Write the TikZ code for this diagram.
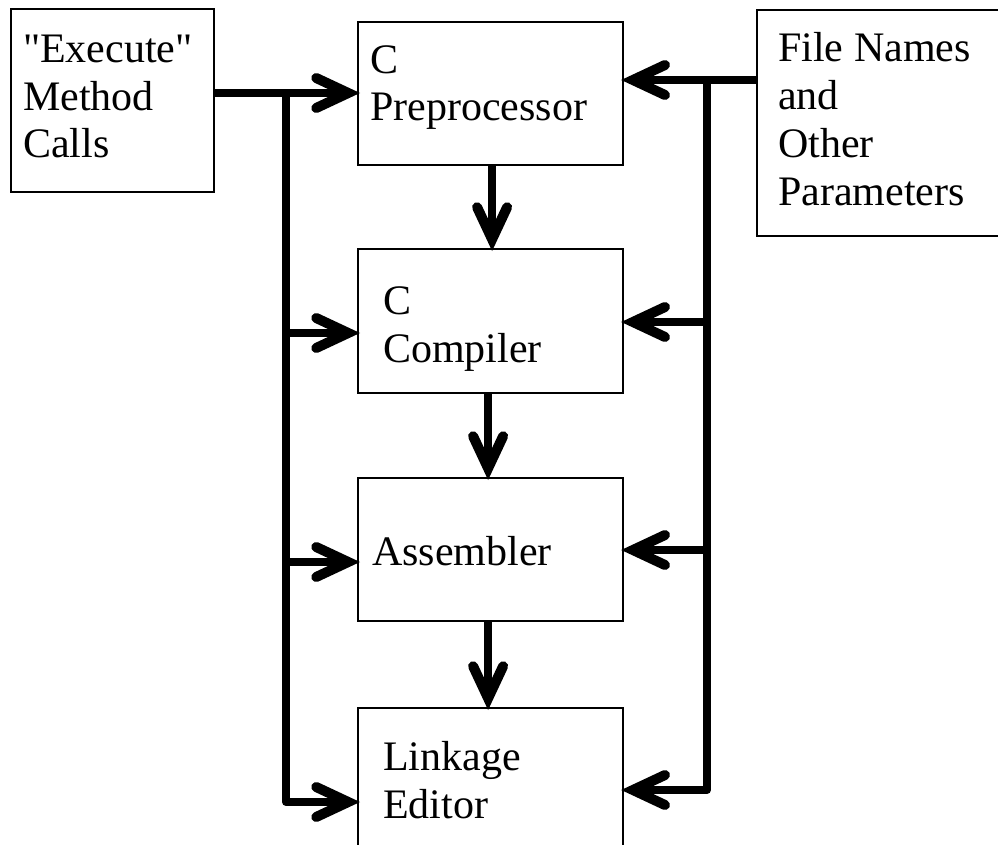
\documentclass[tikz,border=0pt]{standalone}
\usepackage{fontspec}
\setmainfont{Liberation Serif}
% same face without TeX ligatures, so that " stays a straight quote
\newfontfamily\plainserif{Liberation Serif}
\usetikzlibrary{arrows.meta,calc}
\begin{document}
\begin{tikzpicture}[x=1pt,y=-1pt,
  box/.style={draw, line width=2.2pt, inner sep=0pt, anchor=north west},
  % anchor on the baseline of the last line of each label
  lbl/.style={font=\fontsize{42}{47.7}\selectfont, inner sep=0pt, anchor=base west, align=left},
  flow/.style={line width=8pt, line join=round, shorten >=-3pt,
    -{Straight Barb[length=32pt, width=30pt, line width=10pt, line join=miter, line cap=round]}}]
\useasboundingbox (0,0) rectangle (998,845);

% boxes
\node[box, minimum width=203pt, minimum height=183pt] (exec) at (10,8) {};
\node[box, minimum width=265pt, minimum height=143pt] (pre)  at (357,21) {};
\node[box, minimum width=265pt, minimum height=226pt] (file) at (756,9) {};
\node[box, minimum width=265pt, minimum height=144pt] (comp) at (357,248) {};
\node[box, minimum width=265pt, minimum height=143pt] (asm)  at (357,477) {};
\node[box, minimum width=265pt, minimum height=200pt] (link) at (357,707) {};

% labels
\node[lbl] (execT) at (23,158)  {{\plainserif"Execute"}\\Method\\Calls};
\node[lbl] (preT)  at (370,121) {C\\Preprocessor};
\node[lbl] (fileT) at (778,205) {File Names\\and\\Other\\Parameters};
\node[lbl] (compT) at (383,362) {C\\Compiler};
\node[lbl] (asmT)  at (372,565) {Assembler};
\node[lbl] (linkT) at (383,818) {Linkage\\Editor};

% left bus: method calls to every stage
\coordinate (lj) at (286,93);
\coordinate (lc) at (286,333);
\coordinate (la) at (286,562);
\coordinate (lb) at (286,802);
\draw[flow] (exec.east |- lj) -- (pre.west |- lj);
\draw[flow] (lj) -- (lb) -- (link.west |- lb);
\draw[flow] (lc) -- (comp.west |- lc);
\draw[flow] (la) -- (asm.west |- la);

% right bus: file names and parameters to every stage
\coordinate (rj) at (707,80);
\coordinate (rc) at (707,322);
\coordinate (ra) at (707,550);
\coordinate (rb) at (707,790);
\draw[flow] (file.west |- rj) -- (pre.east |- rj);
\draw[flow] (rj) -- (rb) -- (link.east |- rb);
\draw[flow] (rc) -- (comp.east |- rc);
\draw[flow] (ra) -- (asm.east |- ra);

% stage to stage
\draw[flow] ($(pre.south)+(1.5,0)$) -- ($(comp.north)+(1.5,0)$);
\draw[flow] ($(comp.south)+(-2.5,0)$) -- ($(asm.north)+(-2.5,0)$);
\draw[flow] ($(asm.south)+(-2.5,0)$) -- ($(link.north)+(-2.5,0)$);
\end{tikzpicture}
\end{document}
